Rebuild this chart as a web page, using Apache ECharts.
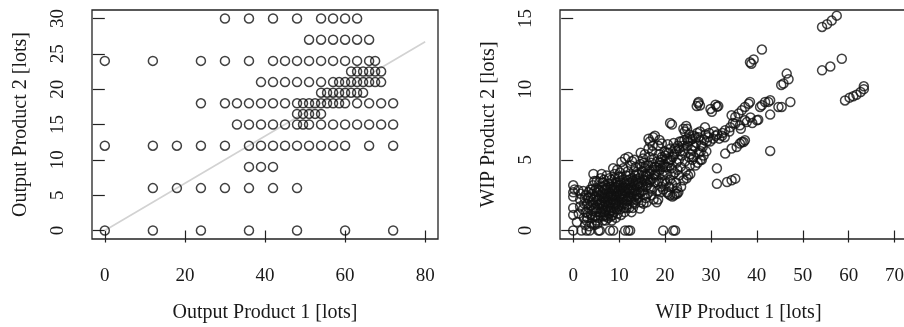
<!DOCTYPE html>
<html>
<head>
<meta charset="utf-8">
<script src="https://cdn.jsdelivr.net/npm/echarts@6/dist/echarts.min.js"></script>
<style>
html,body{margin:0;padding:0;background:#fff;}
#chart{width:904px;height:327px;}
</style>
</head>
<body>
<div id="chart"></div>
<script>
// ---- Left panel: Output Product 1 vs Output Product 2 (rows by y value) ----
var outputRowY = [0, 6, 9, 12, 15, 16.5, 18, 19.5, 21, 22.5, 24, 27, 30];
var outputRowX = [
  [0, 12, 24, 36, 48, 60, 72],
  [12, 18, 24, 30, 36, 42, 48],
  [36, 39, 42],
  [0, 12, 18, 24, 30, 36, 39, 42, 45, 48, 51, 54, 57, 60, 66, 72],
  [33, 36, 39, 42, 45, 48, 49.5, 51, 54, 57, 60, 63, 66, 69, 72],
  [48, 49.5, 51, 52.5, 54],
  [24, 30, 33, 36, 39, 42, 45, 48, 49.5, 51, 52.5, 54, 55.5, 57, 58.5, 60, 63, 66, 69, 72],
  [54, 55.5, 57, 58.5, 60, 61.5, 63, 64.5],
  [39, 42, 45, 48, 51, 54, 57, 58.5, 60, 61.5, 63, 64.5, 66, 67.5, 69],
  [61.5, 63, 64.5, 66, 67.5, 69],
  [0, 12, 24, 30, 36, 42, 45, 48, 51, 54, 57, 60, 63, 66, 67.5],
  [51, 54, 57, 60, 63, 66],
  [30, 36, 42, 48, 54, 57, 60, 63]
];
var outputLine = [[0, 0], [80, 26.7]];
var outputXTicks = [0, 20, 40, 60, 80];
var outputYTicks = [0, 5, 10, 15, 20, 25, 30];

// ---- Right panel: WIP Product 1 vs WIP Product 2 ----
var wipLow = [
  [0,3.2],[0,2.7],[0,2.4],[0,1.6],[0,1.1],[0,0],[0.3,2.9],[1.1,2.85],[1.5,2.2],[1.5,1.7],[1.8,0],[1.2,1.2],[0.8,0.6],[1.6,2.6],
  [2.9,0],[3.6,0],[2.9,0.7],[3.3,2.7],[3.6,2.1],[2.4,1.9],[2.7,1.3],[3.1,0.9],[3.4,1.6],[3.8,2.4],[2.2,2.8],[3.9,1.1],[2.6,0.4],[3.5,0.3],[3.0,1.9],[3.7,2.9],[2.5,2.3],
  [4.0,0.5],[4.4,4.0],[4.2,1.4],[4.5,2.2],[4.8,1.0],[5.1,0.7],[5.5,0],[5.8,0],[4.6,2.8],[5.0,3.0],[5.3,1.8],[5.6,2.5],[5.9,1.3],[4.3,3.2],[4.9,1.6],[5.2,2.1],[5.7,3.4],[4.1,2.6],[5.4,0.9],[5.8,1.9],[4.7,0.4],[5.5,2.9],[6.0,3.7],[4.4,1.9],[5.1,3.5],
  [6.2,4.0],[6.5,0.7],[6.3,1.5],[6.6,2.3],[6.9,1.1],[7.2,2.9],[7.5,1.7],[7.8,3.3],[6.4,3.1],[6.8,2.6],[7.1,1.4],[7.4,2.1],[7.7,2.6],[7.9,1.2],[6.1,2.0],[6.7,3.6],[7.3,3.9],[6.5,1.0],[7.6,0.9],[8.0,0],[6.9,2.0],[7.0,3.2],[7.5,2.4],[6.3,2.7],[7.8,1.9],[7.2,1.0],[6.6,1.7],[7.9,3.7],[8.0,2.9]
];
var wipMid = [
  [8.4,0.7],[8.7,4.4],[8.2,1.4],[8.5,2.2],[8.8,3.0],[9.1,1.8],[9.4,2.6],[9.7,3.4],[8.3,3.6],[8.6,1.1],[8.9,2.5],[9.2,3.1],[9.5,1.5],[9.8,2.2],[8.1,2.0],[9.0,4.0],[9.3,0.9],[9.6,4.3],[9.9,2.8],[8.8,1.6],[9.4,1.9],[8.5,2.9],[9.1,3.7],[9.7,1.2],[8.2,2.6],[9.9,3.8],[8.7,0],[9.0,2.2],[9.5,3.0],
  [10.5,4.85],[10.2,1.5],[10.5,2.3],[10.8,3.1],[11.1,1.9],[11.4,2.7],[11.7,3.5],[10.1,3.8],[10.4,1.1],[10.7,2.6],[11.0,3.4],[11.3,5.1],[11.6,2.1],[11.9,4.2],[10.3,2.9],[10.9,4.4],[11.2,1.3],[11.5,3.9],[11.8,2.9],[10.6,1.8],[11.0,2.2],[11.3,0],[12,0],[12.4,0],[12.0,5.2],[10.8,3.6],[11.6,1.6],[10.2,4.1],[11.9,2.4],[11.4,3.2],
  [12.2,1.6],[12.5,2.4],[12.7,1.3],[12.8,3.2],[13.1,2.0],[13.4,2.8],[13.7,3.6],[12.3,3.9],[12.6,4.6],[12.9,2.6],[13.2,4.2],[13.5,1.9],[13.8,2.5],[12.1,2.9],[13.0,3.5],[13.3,5.0],[13.6,4.5],[13.9,3.2],[12.4,3.4],[13.0,1.6],[13.7,2.2],[12.8,4.9],[13.4,3.9],[12.6,2.1],
  [14.5,1.55],[14.2,2.3],[14.5,3.1],[14.8,2.0],[15.1,2.8],[15.4,3.6],[15.7,4.4],[14.3,4.0],[14.6,4.7],[14.9,3.4],[15.2,5.1],[15.5,2.5],[15.8,3.1],[14.1,3.5],[15.0,4.2],[15.3,1.9],[15.6,5.4],[15.9,3.9],[14.4,2.7],[14.7,5.5],[15.4,4.8],[15.8,2.3]
];
var wipCore = [
  [2.1,1.5],[2.3,0.9],[2.8,2.5],[3.2,1.2],[3.3,2.3],[3.9,1.8],[4.0,2.9],[4.2,0.9],[4.5,1.5],[4.6,3.5],[4.8,2.4],[5.0,1.3],[5.2,2.7],[5.3,0.5],[5.5,1.6],[5.7,2.2],[5.9,2.8],[6.0,1.0],[6.2,2.4],[6.4,1.8],
  [6.5,3.4],[6.7,1.3],[6.8,2.9],[7.0,2.3],[7.1,0.7],[7.3,1.7],[7.4,3.0],[7.6,2.2],[7.7,1.4],[7.9,2.4],[8.0,1.6],[8.2,3.1],[8.3,1.0],[8.4,2.4],[8.6,3.3],[8.7,1.9],[8.9,1.3],[9.0,2.9],[9.2,2.4],[9.3,3.4],
  [9.5,2.0],[9.6,2.7],[9.8,1.7],[9.9,3.2],[10.0,2.4],[10.1,1.9],[10.3,3.4],[10.4,2.6],[10.6,3.0],[10.7,2.0],[10.9,2.8],[11.0,1.6],[11.2,3.0],[11.3,2.4],[11.5,2.7],[11.7,1.8],[11.8,3.3],[12.0,2.2],[12.1,3.6],[12.3,2.7],
  [12.5,3.0],[12.7,2.3],[12.9,3.7],[13.1,2.9],[13.3,2.4],[13.5,3.3],[13.6,2.8],[13.9,4.0],[14.0,2.6],[14.2,3.3],[14.4,3.7],[14.7,2.7],[14.9,4.5],[15.1,3.2],[15.3,3.9],[15.6,3.5],[15.8,4.6],[16.1,3.2],[16.3,3.6],[16.6,4.0],
  [16.9,3.6],[17.2,4.3],[17.6,3.9],[18.0,4.5],[18.3,4.2],[18.8,4.8],[19.1,5.0],[19.5,4.5],[20.0,5.3],[20.4,4.5],[20.8,5.5],[21.3,5.0],[22.0,5.4],[22.5,5.6],[23.0,5.8],[23.6,6.3],[24.2,6.4],[25.0,6.3],[25.6,5.4],[26.0,6.5],[26.7,6.6]
];
var wipUpper = [
  [16.0,2.0],[16.4,6.5],[17.8,6.7],[16.2,2.6],[16.5,3.4],[16.8,4.2],[17.1,2.9],[17.4,3.7],[17.7,4.5],[16.3,4.6],[16.6,5.2],[16.9,3.0],[17.2,5.6],[17.5,2.2],[17.8,3.4],[16.1,3.9],[17.0,4.8],[17.3,6.0],[17.6,5.1],[17.9,4.0],[16.7,6.3],[17.4,6.6],[16.4,5.8],[17.0,2.5],
  [18.2,2.0],[18.5,6.0],[19.3,6.15],[18.3,2.8],[18.6,3.5],[18.9,4.3],[19.2,3.1],[19.5,3.9],[19.8,4.7],[18.4,4.9],[18.7,5.4],[19.0,2.7],[19.3,5.2],[19.6,2.9],[19.9,5.6],[18.1,3.9],[19.0,4.6],[19.6,0],[18.8,6.4],[19.4,3.4],[18.5,2.2],[19.7,4.2],[20.0,3.5],
  [20.4,2.7],[20.7,2.6],[21.1,2.5],[21.1,7.6],[21.5,7.5],[21.8,0],[22.2,0],[20.2,3.3],[20.5,4.0],[20.8,4.8],[21.1,3.6],[21.4,4.4],[21.7,5.2],[20.3,5.5],[20.6,6.1],[20.9,3.1],[21.2,5.8],[21.5,3.3],[21.8,4.0],[20.1,4.5],[21.0,5.0],[21.6,2.4],[21.9,6.2],[20.5,5.1],
  [22.0,2.5],[22.3,2.6],[22.6,2.6],[22.9,2.7],[22.4,3.4],[22.7,4.3],[23.0,5.0],[23.3,5.6],[22.2,5.8],[22.5,4.8],[22.8,6.0],[23.1,3.9],[23.4,4.5],[23.7,5.3],[22.1,4.1],[23.5,3.1],[23.9,6.0],[22.6,3.0],[23.2,6.3]
];
var wipWide = [
  [24.0,7.2],[24.3,7.0],[24.6,7.4],[24.8,7.2],[24.0,3.55],[24.7,3.7],[25.4,4.6],[24.2,5.6],[24.5,4.2],[24.9,6.0],[25.2,5.2],[25.6,6.4],[25.9,5.0],[24.4,4.9],[25.0,3.9],[25.3,6.8],[25.8,5.7],[24.8,6.5],[25.5,4.0],
  [26.9,8.8],[27.2,9.0],[27.6,8.85],[27.3,9.1],[27.0,6.9],[27.3,6.6],[27.6,7.0],[26.2,5.2],[26.5,5.9],[26.8,6.2],[27.1,4.8],[27.4,5.5],[27.7,5.0],[26.3,6.7],[26.6,4.6],[27.9,6.0],[26.1,6.0],[27.8,5.6],[28.0,5.0],
  [29.4,6.6],[28.2,5.9],[28.5,6.4],[28.8,6.8],[29.1,6.3],[28.4,5.3],[29.0,5.6],[29.6,6.9],[29.8,6.3],[28.7,7.3],[30.2,8.4],[29.9,8.6],
  [31.3,8.75],[31.0,8.9],[31.6,8.8],[31.3,4.4],[31.3,3.3],[30.5,6.5],[31.0,6.7],[31.4,6.8],[30.7,7.0],[31.8,6.5],[32.4,6.7],
  [33.1,7.1],[34.2,7.3],[35.3,7.56],[36.3,7.44],[37.4,7.8],[35.3,8.03],[36.0,8.27],[36.7,8.5],[37.4,8.74],[38.2,8.97],[33.1,5.44],[34.5,5.8],[35.6,5.9],[36.3,6.15],[37.1,6.26],[33.5,3.43],[34.5,3.55],[35.3,3.67],[32.5,6.9],[34.0,7.0],[33.0,6.6],[34.8,7.6],
  [34.5,8.15],[38.5,9.1],[37.8,7.67],[40.0,7.8],[36.7,6.26],[37.4,6.38]
];
var wipOuter = [
  [38.5,11.9],[39.3,12.1],[38.8,11.8],[41.1,12.8],[40.3,7.84],[41.1,8.86],[41.8,9.09],[42.9,9.21],[42.9,8.2],[42.9,5.63],[45.4,8.74],[47.3,9.09],[46.5,11.1],[46.9,10.7],[45.8,10.4],[45.3,10.3],[39.0,7.6],[38.6,8.0],[36.5,7.2],[40.7,8.74],[42.5,9.1],[44.7,8.74],
  [54.2,14.4],[55.3,14.6],[56.3,14.85],[57.4,15.2],[54.2,11.33],[56,11.6],[58.5,12.15],[59.2,9.2],[60.2,9.4],[61,9.5],[61.7,9.6],[62.6,9.8],[63.3,10.0],[63.3,10.2]
];
var wipXTicks = [0, 10, 20, 30, 40, 50, 60, 70];
var wipYTicks = [0, 5, 10, 15];

var outputPoints = [];
outputRowY.forEach(function (y, i) {
  outputRowX[i].forEach(function (x) { outputPoints.push([x, y]); });
});
var wipPoints = wipLow.concat(wipMid, wipCore, wipUpper, wipWide, wipOuter);

var FONT = 'Liberation Serif';
var TXT = '#1a1a1a';

function xAxis(gi, min, max, ticks, name) {
  return {
    gridIndex: gi, type: 'value', min: min, max: max,
    name: name, nameLocation: 'middle', nameGap: 64,
    nameTextStyle: {fontFamily: FONT, fontSize: 20, color: TXT},
    axisLine: {show: false},
    axisTick: {show: true, length: 12, customValues: ticks, lineStyle: {color: '#222', width: 1.2}},
    axisLabel: {customValues: ticks, margin: 28, fontFamily: FONT, fontSize: 19, color: TXT},
    splitLine: {show: false}
  };
}
function yAxis(gi, min, max, ticks, name) {
  return {
    gridIndex: gi, type: 'value', min: min, max: max,
    name: name, nameLocation: 'middle', nameGap: 61,
    nameTextStyle: {fontFamily: FONT, fontSize: 20, color: TXT},
    axisLine: {show: false},
    axisTick: {show: true, length: 12, customValues: ticks, lineStyle: {color: '#222', width: 1.2}},
    axisLabel: {customValues: ticks, rotate: 90, margin: 24, fontFamily: FONT, fontSize: 19, color: TXT},
    splitLine: {show: false}
  };
}

var circleStyle = {color: 'rgba(0,0,0,0)', borderColor: '#111', borderWidth: 1.5};

var chart = echarts.init(document.getElementById('chart'), null, {renderer: 'canvas'});
chart.setOption({
  backgroundColor: '#fff',
  animation: false,
  grid: [
    {left: 92, top: 10, width: 346, height: 229, show: true, borderColor: '#222', borderWidth: 1.3,
     backgroundColor: 'transparent', outerBoundsMode: 'none', containLabel: false},
    {left: 560, top: 10, width: 357, height: 229, show: true, borderColor: '#222', borderWidth: 1.3,
     backgroundColor: 'transparent', outerBoundsMode: 'none', containLabel: false}
  ],
  xAxis: [
    xAxis(0, -3.2, 83.2, outputXTicks, 'Output Product 1 [lots]'),
    xAxis(1, -2.88, 74.88, wipXTicks, 'WIP Product 1 [lots]')
  ],
  yAxis: [
    yAxis(0, -1.2, 31.2, outputYTicks, 'Output Product 2 [lots]'),
    yAxis(1, -0.6, 15.6, wipYTicks, 'WIP Product 2 [lots]')
  ],
  series: [
    {type: 'line', xAxisIndex: 0, yAxisIndex: 0, data: outputLine, symbol: 'none', silent: true,
     lineStyle: {color: '#d2d2d2', width: 1.6}, z: 1},
    {type: 'scatter', xAxisIndex: 0, yAxisIndex: 0, data: outputPoints, symbol: 'circle', symbolSize: 9,
     itemStyle: circleStyle, z: 2},
    {type: 'scatter', xAxisIndex: 1, yAxisIndex: 1, data: wipPoints, symbol: 'circle', symbolSize: 9,
     itemStyle: circleStyle, z: 2, large: false}
  ]
});
</script>
</body>
</html>
